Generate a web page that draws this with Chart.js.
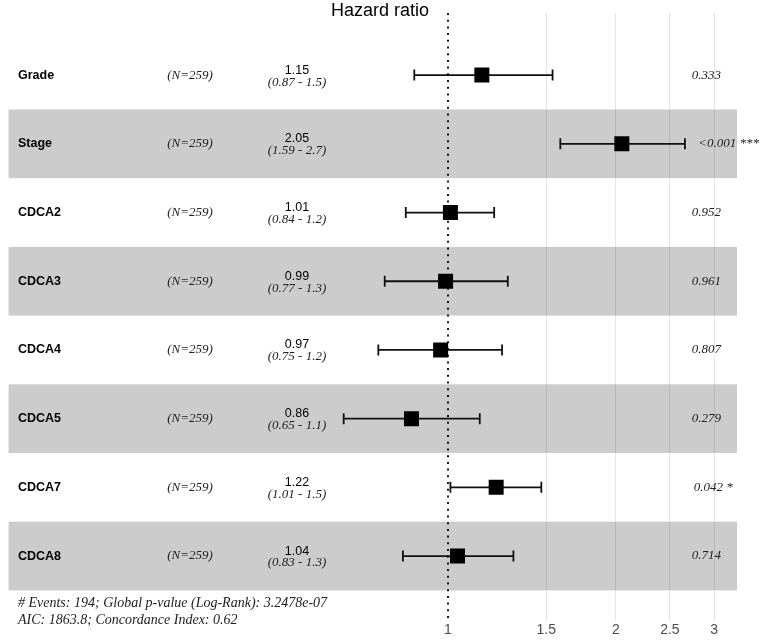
<!DOCTYPE html>
<html>
<head>
<meta charset="utf-8">
<script src="https://cdn.jsdelivr.net/npm/chart.js@4/dist/chart.umd.min.js"></script>
<style>
  html, body { margin: 0; padding: 0; background: #fff; }
  canvas { display: block; }
</style>
</head>
<body>
<canvas id="forest" width="760" height="640"></canvas>
<script>
// --- data ---
const variables = ["Grade", "Stage", "CDCA2", "CDCA3", "CDCA4", "CDCA5", "CDCA7", "CDCA8"];
const nLabels = ["(N=259)", "(N=259)", "(N=259)", "(N=259)", "(N=259)", "(N=259)", "(N=259)", "(N=259)"];
const hazard = [1.15, 2.05, 1.01, 0.99, 0.97, 0.86, 1.22, 1.04];
const ciLow = [0.87, 1.59, 0.84, 0.77, 0.75, 0.65, 1.01, 0.83];
const ciHigh = [1.54, 2.66, 1.21, 1.28, 1.25, 1.14, 1.47, 1.31];
const ciText = ["(0.87 - 1.5)", "(1.59 - 2.7)", "(0.84 - 1.2)", "(0.77 - 1.3)", "(0.75 - 1.2)", "(0.65 - 1.1)", "(1.01 - 1.5)", "(0.83 - 1.3)"];
const pText = ["0.333", "<0.001 ***", "0.952", "0.961", "0.807", "0.279", "0.042 *", "0.714"];
const xTicks = [1, 1.5, 2, 2.5, 3];
const footnote = [
  "# Events: 194; Global p-value (Log-Rank): 3.2478e-07",
  "AIC: 1863.8; Concordance Index: 0.62"
];
const title = "Hazard ratio";

const Y_MIN = 0.096, Y_MAX = 8.948;
const SANS = '"Liberation Sans", Arial, sans-serif';
const SERIF = '"Liberation Serif", "Times New Roman", serif';

const forestPlugin = {
  id: "forest",
  beforeDraw(chart) {
    const { ctx, chartArea: a, scales: { y } } = chart;
    ctx.save();
    ctx.fillStyle = "#cccccc";
    variables.forEach((v, i) => {
      if (i % 2 === 0) return;
      const top = y.getPixelForValue(i + 1 - 0.5);
      const bot = y.getPixelForValue(i + 1 + 0.5);
      ctx.fillRect(a.left - 2, top, a.right - a.left + 2, bot - top);
    });
    ctx.restore();
  },
  beforeDatasetsDraw(chart) {
    const { ctx, scales: { x, y } } = chart;
    ctx.save();
    ctx.strokeStyle = "#111";
    ctx.lineWidth = 1.8;
    variables.forEach((v, i) => {
      const py = y.getPixelForValue(i + 1);
      const x0 = x.getPixelForValue(ciLow[i]);
      const x1 = x.getPixelForValue(ciHigh[i]);
      ctx.beginPath();
      ctx.moveTo(x0, py); ctx.lineTo(x1, py);
      ctx.moveTo(x0, py - 5.5); ctx.lineTo(x0, py + 5.5);
      ctx.moveTo(x1, py - 5.5); ctx.lineTo(x1, py + 5.5);
      ctx.stroke();
    });
    ctx.restore();
  },
  afterDraw(chart) {
    const { ctx, scales: { y } } = chart;
    ctx.save();
    ctx.textBaseline = "middle";

    ctx.fillStyle = "#000";
    ctx.textAlign = "center";
    ctx.font = "18px " + SANS;
    ctx.fillText(title, 380, 11);

    variables.forEach((v, i) => {
      const py = y.getPixelForValue(i + 1);

      ctx.fillStyle = "#000";
      ctx.textAlign = "left";
      ctx.font = "bold 12.5px " + SANS;
      ctx.fillText(v, 18, py);

      ctx.fillStyle = "#222";
      ctx.textAlign = "center";
      ctx.font = "italic 13px " + SERIF;
      ctx.fillText(nLabels[i], 190, py);

      ctx.fillStyle = "#000";
      ctx.font = "12.5px " + SANS;
      ctx.fillText(hazard[i].toFixed(2), 297, py - 5);
      ctx.fillStyle = "#222";
      ctx.font = "italic 13px " + SERIF;
      ctx.fillText(ciText[i], 297, py + 7);

      ctx.textAlign = "left";
      const w = ctx.measureText(pText[i]).width;
      ctx.fillText(pText[i], 686 + 0.2 * w, py);
    });

    ctx.fillStyle = "#222";
    ctx.textAlign = "left";
    ctx.font = "italic 14px " + SERIF;
    ctx.fillText(footnote[0], 18, 603);
    ctx.fillText(footnote[1], 18, 620);
    ctx.restore();
  }
};

new Chart(document.getElementById("forest"), {
  type: "scatter",
  data: {
    datasets: [
      {
        data: hazard.map((h, i) => ({ x: h, y: i + 1 })),
        pointStyle: "rect",
        pointRadius: 10.6,
        pointHoverRadius: 10.6,
        backgroundColor: "#000",
        borderWidth: 0,
        order: 1
      },
      {
        data: [{ x: 1, y: Y_MIN }, { x: 1, y: Y_MAX }],
        showLine: true,
        borderColor: "#000",
        borderWidth: 1.8,
        borderDash: [2, 4.7],
        pointRadius: 0,
        order: 2
      }
    ]
  },
  options: {
    responsive: false,
    animation: false,
    layout: { padding: { left: 8, right: 23, top: 13, bottom: 0 } },
    plugins: { legend: { display: false }, tooltip: { enabled: false } },
    events: [],
    scales: {
      x: {
        type: "logarithmic",
        min: 0.16428,
        max: 3.298,
        afterBuildTicks: (scale) => { scale.ticks = xTicks.map(v => ({ value: v })); },
        grid: {
          color: (c) => (c.tick && c.tick.value === 1 ? "rgba(0,0,0,0)" : "rgba(0,0,0,0.1)"),
          lineWidth: 1,
          drawTicks: false
        },
        border: { display: false },
        ticks: {
          autoSkip: false,
          maxRotation: 0,
          padding: 1,
          color: "#4d4d4d",
          font: { family: SANS, size: 14 },
          callback: (v) => String(v)
        }
      },
      y: {
        type: "linear",
        reverse: true,
        min: Y_MIN,
        max: Y_MAX,
        display: false
      }
    }
  },
  plugins: [forestPlugin]
});
</script>
</body>
</html>
